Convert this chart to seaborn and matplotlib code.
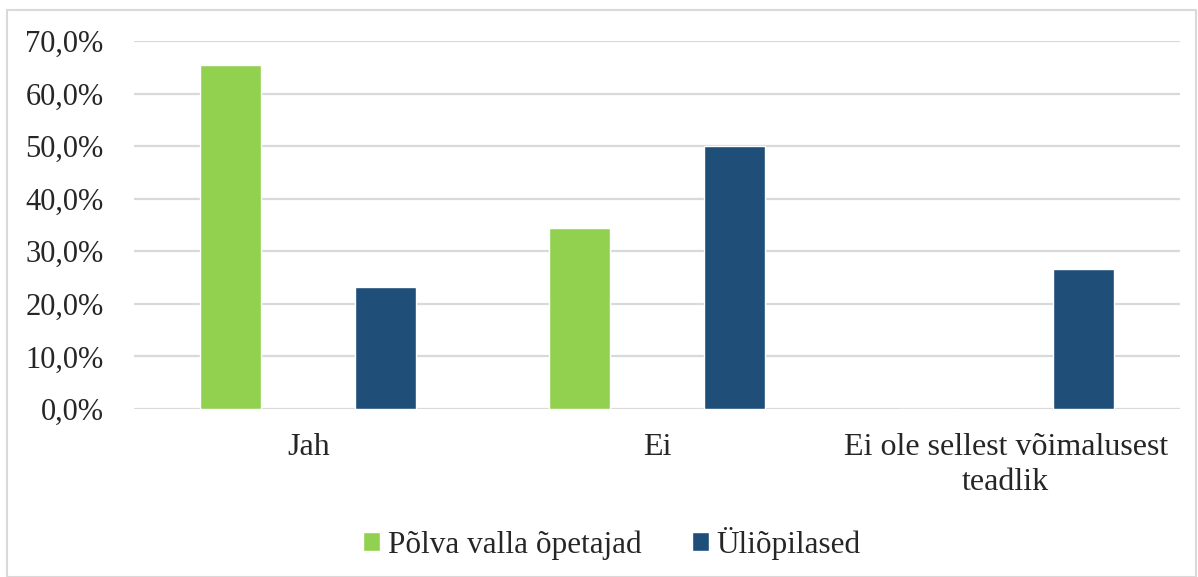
import pandas as pd
import matplotlib.pyplot as plt
import seaborn as sns
from matplotlib.patches import Rectangle
from matplotlib.ticker import FuncFormatter

# Data
categories = ["Jah", "Ei", "Ei ole sellest võimalusest\nteadlik"]
series_names = ["Põlva valla õpetajad", "Üliõpilased"]
teachers = [65.5, 34.5, 0.0]
students = [23.3, 50.0, 26.7]
colors = ["#92D050", "#1F4E79"]

df = pd.DataFrame({
    "category": categories * 2,
    "group": [series_names[0]] * 3 + [series_names[1]] * 3,
    "value": teachers + students,
})

sns.set_style("white")
plt.rcParams["font.family"] = ["Liberation Serif", "DejaVu Serif"]

fig = plt.figure(figsize=(11.98, 5.77), dpi=100)
ax = fig.add_axes([0.1119, 0.2912, 0.8731, 0.6377])

sns.barplot(data=df, x="category", y="value", hue="group", palette=colors,
            width=0.889, gap=0.606, ax=ax, saturation=1)

ax.set_ylim(0, 70)
ax.set_xlim(-0.5, 2.5)
ax.set_yticks(range(0, 71, 10))
ax.yaxis.set_major_formatter(FuncFormatter(lambda v, p: f"{v:.1f}%".replace(".", ",")))
ax.grid(axis="y", color="#D9D9D9", linewidth=1.6)
ax.set_axisbelow(True)
for s in ax.spines.values():
    s.set_visible(False)
ax.tick_params(axis="y", length=0, pad=22, labelsize=22)
ax.tick_params(axis="x", length=0, pad=17, labelsize=23)
ax.set_xlabel("")
ax.set_ylabel("")
for t in ax.get_xticklabels():
    t.set_linespacing(1.3)

leg = ax.legend(loc="center", bbox_to_anchor=(612 / 1198, 1 - 543 / 577),
                bbox_transform=fig.transFigure, ncol=2, frameon=False,
                fontsize=22.5, handlelength=0.55, handleheight=0.55,
                handletextpad=0.25, columnspacing=1.6)

# light outer chart border
fig.patches.append(Rectangle((7 / 1198, 0.0), 1189 / 1198, 1 - 10 / 577,
                             transform=fig.transFigure, fill=False,
                             edgecolor="#D9D9D9", linewidth=1.5))

fig.savefig("out.png", dpi=100)
